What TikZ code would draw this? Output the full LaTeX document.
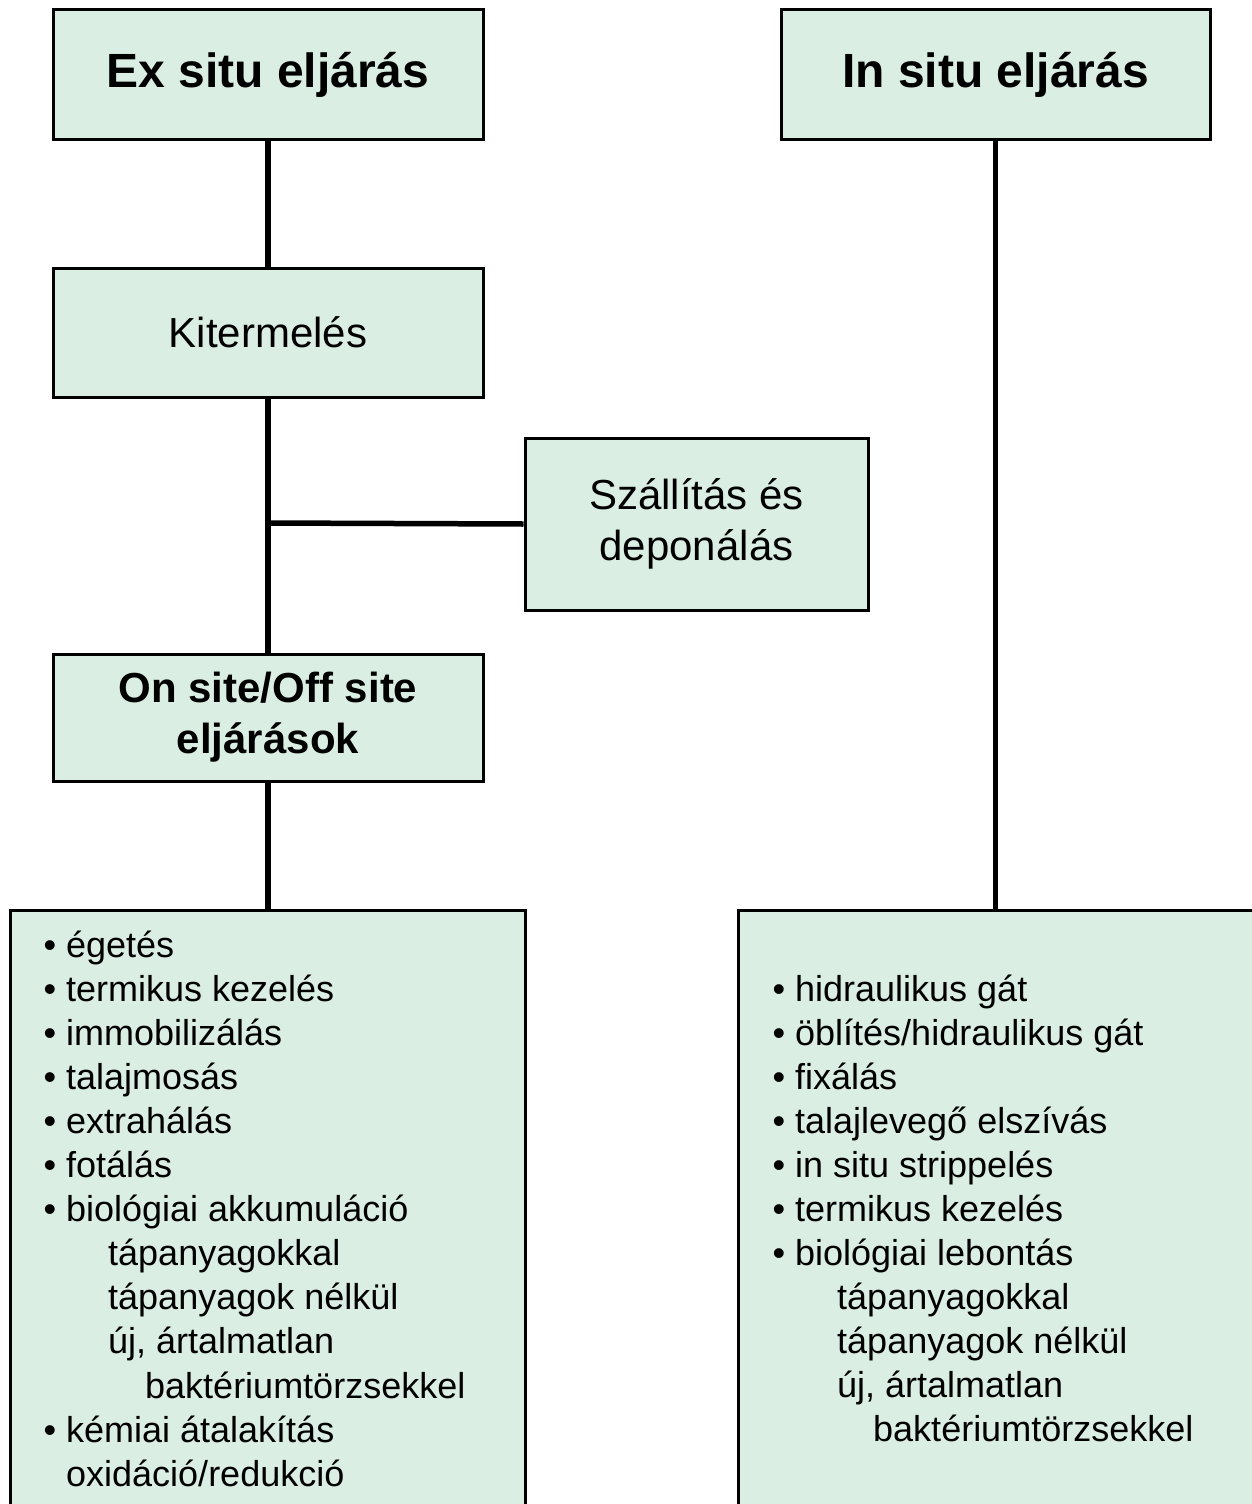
\documentclass[tikz,border=0pt]{standalone}
\usepackage{fontspec}
\setmainfont{Liberation Sans}
\definecolor{boxfill}{RGB}{218,238,227}
\newcommand{\bul}{\llap{\textbullet\hspace{10pt}}}
\begin{document}
\begin{tikzpicture}[x=1pt,y=-1pt,
  box/.style={draw=black, line width=3pt, fill=boxfill, inner sep=0pt, align=center},
  link/.style={line width=5.5pt},
  title/.style={font=\fontsize{48}{58}\selectfont\bfseries},
  label/.style={font=\fontsize{42}{51}\selectfont},
  blabel/.style={font=\fontsize{42}{51}\selectfont\bfseries},
  item/.style={anchor=base west, inner sep=0pt, font=\fontsize{36}{43}\selectfont}]
\useasboundingbox (0,0) rectangle (1252,1504);
\clip (0,0) rectangle (1252,1504);

% boxes
\node[box, title, minimum width=430pt, minimum height=129pt] (exsitu) at (268,74.5) {Ex situ eljárás};
\node[box, title, minimum width=429pt, minimum height=129pt] (insitu) at (995.5,74.5) {In situ eljárás};
\node[box, label, minimum width=430pt, minimum height=129pt] (kiterm) at (268,332.5) {Kitermelés};
\node[box, label, minimum width=343pt, minimum height=172pt] (szall) at (696.5,524) {Szállítás és\\deponálás};
\node[box, blabel, minimum width=430pt, minimum height=127pt] (onsite) at (268,717.5) {On site/Off site\\eljárások};
\node[box, minimum width=515pt, minimum height=650pt] (exbox) at (267.5,1235) {};
\node[box, minimum width=562pt, minimum height=650pt] (inbox) at (1019,1235) {};

% connectors
\coordinate (jn) at (268,523);
\draw[link] (exsitu.south) -- (kiterm.north);
\draw[link] (kiterm.south) -- (onsite.north);
\draw[link] (jn) -- (szall.west);
\draw[link] (onsite.south) -- (onsite.south |- exbox.north);
\draw[link] (insitu.south) -- (insitu.south |- inbox.north);

% ex situ list
\node[item] (l1)  at (66,957)    {\bul égetés};
\node[item] (l2)  at (66,1001.1) {\bul termikus kezelés};
\node[item] (l3)  at (66,1045.2) {\bul immobilizálás};
\node[item] (l4)  at (66,1089.3) {\bul talajmosás};
\node[item] (l5)  at (66,1133.4) {\bul extrahálás};
\node[item] (l6)  at (66,1177.5) {\bul fotálás};
\node[item] (l7)  at (66,1221.6) {\bul biológiai akkumuláció};
\node[item] (l8)  at (108,1265.7) {tápanyagokkal};
\node[item] (l9)  at (108,1309.8) {tápanyagok nélkül};
\node[item] (l10) at (108,1353.9) {új, ártalmatlan};
\node[item] (l11) at (145,1398)   {baktériumtörzsekkel};
\node[item] (l12) at (66,1442.1) {\bul kémiai átalakítás};
\node[item] (l13) at (66,1486.2) {oxidáció/redukció};

% in situ list
\node[item] (r1)  at (795,1001) {\bul hidraulikus gát};
\node[item] (r2)  at (795,1045) {\bul öblítés/hidraulikus gát};
\node[item] (r3)  at (795,1089) {\bul fixálás};
\node[item] (r4)  at (795,1133) {\bul talajlevegő elszívás};
\node[item] (r5)  at (795,1177) {\bul in situ strippelés};
\node[item] (r6)  at (795,1221) {\bul termikus kezelés};
\node[item] (r7)  at (795,1265) {\bul biológiai lebontás};
\node[item] (r8)  at (837,1309) {tápanyagokkal};
\node[item] (r9)  at (837,1353) {tápanyagok nélkül};
\node[item] (r10) at (837,1397) {új, ártalmatlan};
\node[item] (r11) at (873,1441) {baktériumtörzsekkel};
\end{tikzpicture}
\end{document}
